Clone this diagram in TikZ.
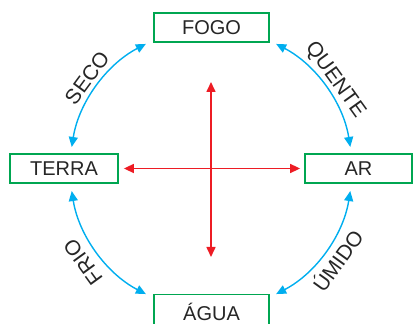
\documentclass[tikz,border=0pt]{standalone}
\usepackage{fontspec}
\setmainfont{Liberation Sans}
\usetikzlibrary{arrows.meta,calc}
\definecolor{boxgreen}{RGB}{0,166,81}
\definecolor{arccyan}{RGB}{0,174,239}
\definecolor{axisred}{RGB}{237,28,36}
\begin{document}
\begin{tikzpicture}[x=1pt,y=1pt,
  box/.style={draw=boxgreen,line width=1.8pt,minimum width=115pt,minimum height=29pt,inner sep=0pt,font=\fontsize{20}{24}\selectfont,text=black!85},
  tip/.tip={Triangle[length=10pt,width=9pt]},
  barc/.style={draw=arccyan,line width=1.4pt,tip-tip},
  raxis/.style={draw=axisred,line width=1.6pt,tip-tip},
  lab/.style={font=\fontsize{21}{24}\selectfont,inner sep=0pt,text=black!85}]
\useasboundingbox (0,0) rectangle (413,324);
\coordinate (c) at (211,155);
\node[box] (fogo) at (211.5,296.5) {FOGO};
\node[box,minimum width=108pt] (terra) at (64,155.5) {TERRA};
\node[box,minimum width=107pt] (ar) at (358.5,155.5) {AR};
\node[box,minimum height=35pt] (agua) at (211.5,12) {ÁGUA};
% red axes
\coordinate (vt) at (211,242);
\coordinate (vb) at (211,67);
\draw[raxis] (vb) -- (vt);
\draw[raxis] ([xshift=5pt]terra.east) -- ([xshift=-4pt]ar.west);
% blue arcs
\coordinate (a1) at ($(c)+(117.5:141)$);
\coordinate (a2) at ($(c)+(62.5:141)$);
\coordinate (a3) at ($(c)+(242.5:141)$);
\coordinate (a4) at ($(c)+(-62.5:141)$);
\draw[barc] (a1) arc[start angle=117.5,end angle=171,radius=141];
\draw[barc] (a2) arc[start angle=62.5,end angle=9,radius=141];
\draw[barc] (a3) arc[start angle=242.5,end angle=189,radius=141];
\draw[barc] (a4) arc[start angle=-62.5,end angle=-9,radius=141];
% labels
\node[lab,rotate=53.7] (seco) at (87,246) {SECO};
\node[lab,rotate=-54.3] (quente) at (335,244) {QUENTE};
\node[lab,rotate=126] (frio) at (83,62) {FRIO};
\node[lab,rotate=54.2] (umido) at (337,64) {ÚMIDO};
\end{tikzpicture}
\end{document}
